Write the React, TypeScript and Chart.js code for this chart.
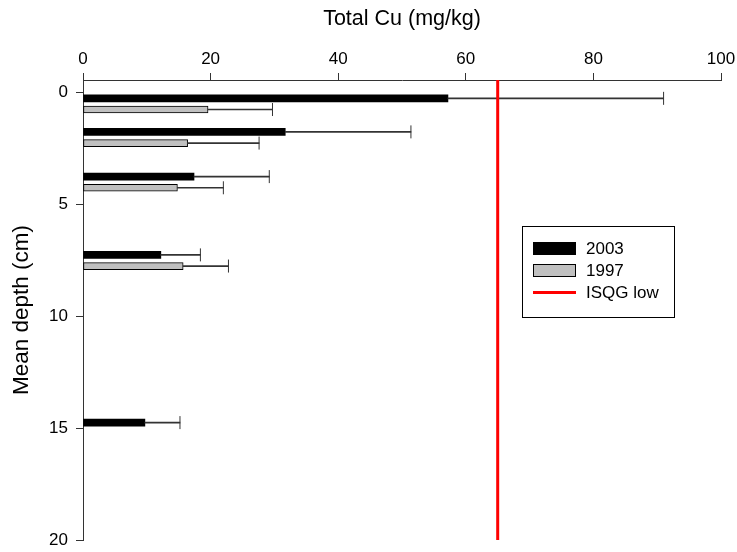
import React, { useEffect, useRef } from 'react';
import { Chart, registerables } from 'chart.js';

Chart.register(...registerables);

// ---- data ----
const meanDepth2003 = [0.5, 2, 4, 7.5, 15];
const cu2003 = [57.2, 31.7, 17.4, 12.2, 9.7];
const err2003 = [33.8, 19.7, 11.8, 6.2, 5.5];

const meanDepth1997 = [0.5, 2, 4, 7.5];
const cu1997 = [19.6, 16.4, 14.8, 15.7];
const err1997 = [10.1, 11.2, 7.2, 7.1];

const isqgLow = 65;

const xTickValues = [0, 20, 40, 60, 80, 100];
const yTickValues = [0, 5, 10, 15, 20];

const seriesLabels = ['2003', '1997', 'ISQG low'];
const xTitle = 'Total Cu (mg/kg)';
const yTitle = 'Mean depth (cm)';

// ---- layout / style constants ----
const GROUP_OFFSET = 0.25; // depth units between the paired bars and group centre
const Y_MIN = -0.57;
const Y_MAX = 20;
const FONT = '"Liberation Sans", Arial, Helvetica, sans-serif';
const AXIS_COLOR = '#333333';
const GRAY = '#c0c0c0';
const RED = '#ff0000';

const legendPlugin = {
  id: 'boxLegend',
  afterDraw(chart: any) {
    const ctx = chart.ctx as CanvasRenderingContext2D;
    const bx = 522.5, by = 226.5, bw = 152, bh = 91;
    ctx.save();
    ctx.fillStyle = '#ffffff';
    ctx.fillRect(bx, by, bw, bh);
    ctx.strokeStyle = '#000000';
    ctx.lineWidth = 1;
    ctx.strokeRect(bx, by, bw, bh);

    const sx = 533, sw = 43, sh = 13;
    const rows = [249, 271, 293];
    // 2003
    ctx.fillStyle = '#000000';
    ctx.fillRect(sx, rows[0] - 7, sw, sh);
    // 1997
    ctx.fillStyle = GRAY;
    ctx.fillRect(sx, rows[1] - 7, sw, sh);
    ctx.strokeStyle = '#000000';
    ctx.strokeRect(sx + 0.5, rows[1] - 6.5, sw - 1, sh - 1);
    // ISQG low
    ctx.strokeStyle = RED;
    ctx.lineWidth = 3;
    ctx.beginPath();
    ctx.moveTo(sx, rows[2] - 0.5);
    ctx.lineTo(sx + sw, rows[2] - 0.5);
    ctx.stroke();

    ctx.fillStyle = '#000000';
    ctx.font = `17px ${FONT}`;
    ctx.textBaseline = 'middle';
    ctx.textAlign = 'left';
    seriesLabels.forEach((t, i) => ctx.fillText(t, 586, rows[i]));
    ctx.restore();
  },
};

export default function App() {
  const canvasRef = useRef<HTMLCanvasElement | null>(null);

  useEffect(() => {
    if (!canvasRef.current) return;
    Chart.defaults.font.family = FONT;
    Chart.defaults.color = '#000000';

    const bars2003 = cu2003.map((v, i) => ({ x: v, y: meanDepth2003[i] - GROUP_OFFSET }));
    const bars1997 = cu1997.map((v, i) => ({ x: v, y: meanDepth1997[i] + GROUP_OFFSET }));
    const whisk2003 = cu2003.map((v, i) => ({ x: [v, v + err2003[i]], y: meanDepth2003[i] - GROUP_OFFSET }));
    const whisk1997 = cu1997.map((v, i) => ({ x: [v, v + err1997[i]], y: meanDepth1997[i] + GROUP_OFFSET }));
    const caps2003 = cu2003.map((v, i) => ({ x: v + err2003[i], y: meanDepth2003[i] - GROUP_OFFSET }));
    const caps1997 = cu1997.map((v, i) => ({ x: v + err1997[i], y: meanDepth1997[i] + GROUP_OFFSET }));

    const capStyle = {
      type: 'scatter',
      pointStyle: 'line',
      rotation: 90,
      pointRadius: 6.5,
      borderWidth: 1,
      borderColor: AXIS_COLOR,
      backgroundColor: AXIS_COLOR,
      order: 1,
    };

    const chart = new Chart(canvasRef.current, {
      type: 'bar',
      data: {
        datasets: [
          {
            type: 'line',
            label: seriesLabels[2],
            data: [{ x: isqgLow, y: Y_MIN }, { x: isqgLow, y: Y_MAX + 0.08 }],
            borderColor: RED,
            borderWidth: 3,
            pointRadius: 0,
            fill: false,
            order: 0,
          } as any,
          { ...capStyle, data: caps2003 } as any,
          { ...capStyle, data: caps1997 } as any,
          {
            type: 'bar',
            data: whisk2003,
            backgroundColor: AXIS_COLOR,
            barThickness: 1,
            grouped: false,
            order: 2,
          } as any,
          {
            type: 'bar',
            data: whisk1997,
            backgroundColor: AXIS_COLOR,
            barThickness: 1,
            grouped: false,
            order: 2,
          } as any,
          {
            type: 'bar',
            label: seriesLabels[0],
            data: bars2003,
            backgroundColor: '#000000',
            borderWidth: 0,
            barThickness: 7,
            grouped: false,
            order: 3,
          } as any,
          {
            type: 'bar',
            label: seriesLabels[1],
            data: bars1997,
            backgroundColor: GRAY,
            borderColor: '#000000',
            borderWidth: 1,
            borderSkipped: false,
            barThickness: 7,
            grouped: false,
            order: 3,
          } as any,
        ],
      },
      options: {
        indexAxis: 'y',
        responsive: false,
        animation: false,
        devicePixelRatio: 1,
        layout: { padding: { left: 0, top: 0, right: 16, bottom: 12 } },
        plugins: {
          legend: { display: false },
          tooltip: { enabled: false },
        },
        scales: {
          x: {
            type: 'linear',
            position: 'top',
            min: 0,
            max: 100,
            afterBuildTicks: (scale: any) => {
              scale.ticks = xTickValues.map((v) => ({ value: v }));
            },
            afterFit: (scale: any) => {
              scale.height = 80;
              scale.paddingLeft = 0;
              scale.paddingRight = 0;
              scale.paddingTop = 0;
              scale.paddingBottom = 0;
            },
            ticks: { font: { size: 17 }, padding: 3, color: '#000' },
            grid: {
              display: true,
              drawOnChartArea: false,
              drawTicks: true,
              tickLength: 7,
              color: AXIS_COLOR,
              lineWidth: 1,
            },
            border: { display: true, color: AXIS_COLOR, width: 1 },
            title: {
              display: true,
              text: xTitle,
              font: { size: 21.5 },
              color: '#000',
              padding: { top: 6, bottom: 0 },
            },
          },
          y: {
            type: 'linear',
            position: 'left',
            reverse: true,
            offset: false,
            min: Y_MIN,
            max: Y_MAX,
            afterBuildTicks: (scale: any) => {
              scale.ticks = yTickValues.map((v) => ({ value: v }));
            },
            afterFit: (scale: any) => {
              scale.width = 83;
              scale.paddingLeft = 0;
              scale.paddingRight = 0;
              scale.paddingTop = 0;
              scale.paddingBottom = 0;
            },
            ticks: { font: { size: 17 }, padding: 8, color: '#000' },
            grid: {
              display: true,
              offset: false,
              drawOnChartArea: false,
              drawTicks: true,
              tickLength: 7,
              color: AXIS_COLOR,
              lineWidth: 1,
            },
            border: { display: true, color: AXIS_COLOR, width: 1 },
            title: {
              display: true,
              text: yTitle,
              font: { size: 22.5 },
              color: '#000',
              padding: { top: 8, bottom: 0 },
            },
          },
        },
      } as any,
      plugins: [legendPlugin],
    });

    return () => chart.destroy();
  }, []);

  return (
    <div style={{ position: 'fixed', left: 0, top: 0, width: 737, height: 552, background: '#fff' }}>
      <canvas ref={canvasRef} width={737} height={552} style={{ display: 'block' }} />
    </div>
  );
}
